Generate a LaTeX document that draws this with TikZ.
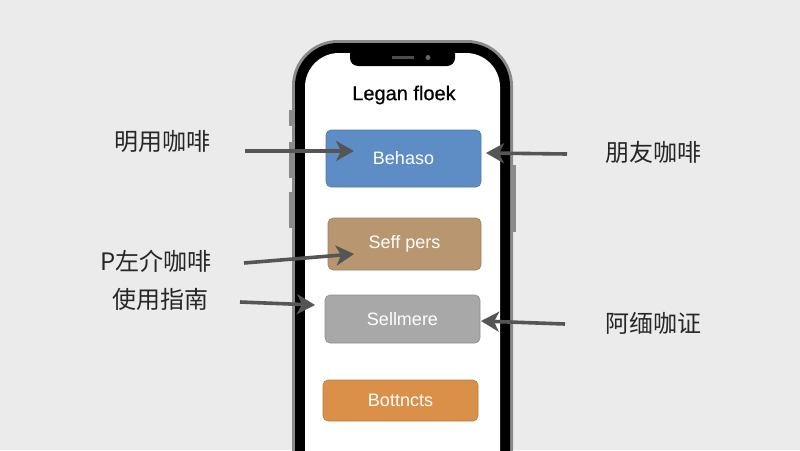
\documentclass[tikz,border=0pt]{standalone}
\usepackage{fontspec}
\setmainfont{Liberation Sans}
\newfontfamily\cjk{Noto Sans CJK SC}
\newfontfamily\titlefont[FakeBold=0.6]{Liberation Sans}
\usetikzlibrary{arrows.meta}
\definecolor{bg}{HTML}{EBEBEB}
\definecolor{bluebtn}{HTML}{5E8DC6}
\definecolor{brownbtn}{HTML}{B8966F}
\definecolor{graybtn}{HTML}{A8A8A8}
\definecolor{orangebtn}{HTML}{DA9049}
\definecolor{arrowc}{HTML}{555555}
\definecolor{silver}{HTML}{8A8A8A}
\tikzset{
  appbtn/.style={rounded corners=5pt, minimum width=155pt, inner sep=0pt, text=white, font=\fontsize{18}{18}\selectfont, draw=#1!85!black, line width=0.6pt, fill=#1},
  lbl/.style={font=\cjk\fontsize{24}{24}\selectfont, text=black!85, inner sep=0pt},
  arr/.style={draw=arrowc, line width=3.6pt, -{Stealth[length=18pt, width=20pt, inset=5pt]}},
}
\begin{document}
\begin{tikzpicture}[x=1pt,y=-1pt]
\useasboundingbox (0,0) rectangle (800,450);
\fill[bg] (0,0) rectangle (800,450);
% side buttons
\fill[silver] (289,110) rectangle (294,126);
\fill[silver] (289,142) rectangle (294,178);
\fill[silver] (289,192) rectangle (294,228);
\fill[silver] (511,165) rectangle (516,232);
% phone body
\fill[silver] (292,40) [rounded corners=46pt] rectangle (513,500);
\fill[black] (295,43) [rounded corners=43pt] rectangle (510,500);
\fill[white] (305,53) [rounded corners=34pt] rectangle (500,500);
% notch
\fill[black] (350,50) -- (350,58) arc[start angle=180, end angle=270, radius=8pt] -- (447,66) arc[start angle=270, end angle=360, radius=8pt] -- (455,50) -- cycle;
\fill[black!70] (392,56) rectangle (414,59);
\fill[black!60] (428,57.5) circle (2.5pt);
\node[font=\titlefont\fontsize{20}{20}\selectfont, inner sep=0pt] (title) at (404,95) {Legan floek};
% buttons
\node[appbtn=bluebtn, minimum height=57pt] (b1) at (403.5,158.5) {Behaso};
\node[appbtn=brownbtn, minimum height=52pt, minimum width=153pt] (b2) at (404.5,244) {Seff pers};
\node[appbtn=graybtn, minimum height=48pt] (b3) at (402.5,319) {Sellmere};
\node[appbtn=orangebtn, minimum height=41pt] (b4) at (400.5,400.5) {Bottncts};
% labels
\node[lbl] (l1) at (162,141) {明用咖啡};
\node[lbl] (l2) at (156,261) {P左介咖啡};
\node[lbl] (l3) at (160,299) {使用指南};
\node[lbl] (r1) at (653,152) {朋友咖啡};
\node[lbl] (r2) at (653,323) {阿缅咖证};
% arrow anchors
\coordinate (l1s) at (245,151);
\coordinate (l1e) at (354,151);
\coordinate (l2s) at (244,263);
\coordinate (l2e) at (354,254);
\coordinate (l3s) at (240,302);
\coordinate (l3e) at (315,305);
\coordinate (r1s) at (567,154);
\coordinate (r1e) at (486,153);
\coordinate (r2s) at (565,324);
\coordinate (r2e) at (481,321);
\draw[arr] (l1s) -- (l1e);
\draw[arr] (l2s) -- (l2e);
\draw[arr] (l3s) -- (l3e);
\draw[arr] (r1s) -- (r1e);
\draw[arr] (r2s) -- (r2e);
\end{tikzpicture}
\end{document}
